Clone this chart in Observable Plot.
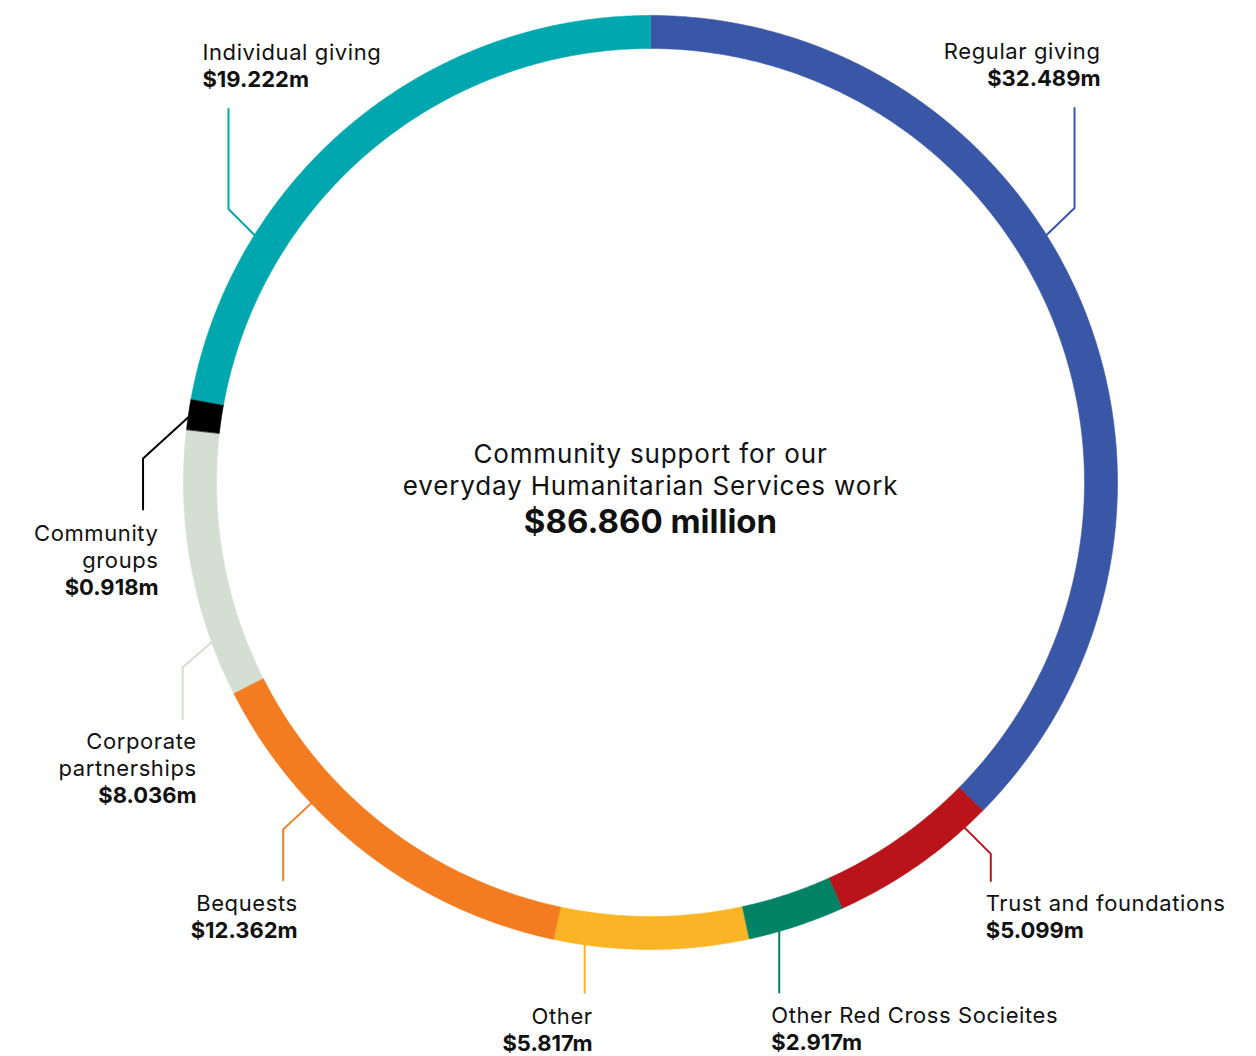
<!DOCTYPE html>
<html><head><meta charset="utf-8">
<script src="https://cdn.jsdelivr.net/npm/d3@7"></script>
<script src="https://cdn.jsdelivr.net/npm/@observablehq/plot@0.6"></script>
<style>
html,body{margin:0;padding:0;background:#fff;overflow:hidden}
#chart svg{display:block}
#chart svg g[aria-label="text"]:not([font-weight]) text{letter-spacing:0.6px}
#chart svg g[aria-label="text"][font-size="26"] text{letter-spacing:0.85px}
</style></head><body><div id="chart"></div>
<script>
// ---- data ----
const categories = ["Regular giving","Trust and foundations","Other Red Cross Socieites","Other","Bequests","Corporate partnerships","Community groups","Individual giving"];
const labelNames = ["Regular giving","Trust and foundations","Other Red Cross Socieites","Other","Bequests","Corporate\npartnerships","Community\ngroups","Individual giving"];
const values = [32.489, 5.099, 2.917, 5.817, 12.362, 8.036, 0.918, 19.222];
const valueLabels = ["$32.489m","$5.099m","$2.917m","$5.817m","$12.362m","$8.036m","$0.918m","$19.222m"];
const colors = ["#3a56a7","#ba141a","#008264","#fbb426","#f47c20","#d4ded3","#000000","#00a7af"];
const centreTitle = "Community support for our\neveryday Humanitarian Services work";
const totalLabel = "$86.860 million";

// ---- layout (screen px) ----
const W = 1256, H = 1056, CX = 650, CY = 482, R_OUT = 467, R_IN = 434;
// leader: anchor angle on ring (deg clockwise from top), diagonal dx/dy, vertical run v, text offset from line end, text anchor
const leaderLayout = [
  {angle: 58,    dx: 28,  dy: -27, v: -100, tx: 26,   ty: -22, anchor: "end"},
  {angle: 137.7, dx: 26,  dy: 26,  v: 27,   tx: -5,   ty: 57,  anchor: "start"},
  {angle: 164,   dx: 0,   dy: 0,   v: 61,   tx: -8,   ty: 58,  anchor: "start"},
  {angle: 188.1, dx: 0,   dy: 0,   v: 48,   tx: 8,    ty: 58,  anchor: "end"},
  {angle: 226.6, dx: -28, dy: 26,  v: 51,   tx: 14.5, ty: 58,  anchor: "end"},
  {angle: 250,   dx: -29, dy: 25,  v: 52,   tx: 14,   ty: 84,  anchor: "end"},
  {angle: 278,   dx: -45, dy: 41,  v: 51,   tx: 15.5, ty: 85,  anchor: "end"},
  {angle: -58,   dx: -26, dy: -26, v: -100, tx: -26,  ty: -22, anchor: "start"}
];
const LINE = 27;

// ---- derived ----
const total = d3.sum(values);
const polar = (r, deg) => { const t = deg * Math.PI / 180; return [r * Math.sin(t), r * Math.cos(t)]; };
let acc = 0;
const slices = categories.map((c, i) => {
  const a0 = acc / total * 360; acc += values[i]; const a1 = acc / total * 360;
  return {c, a0, a1, color: colors[i]};
});
const ringPts = slices.flatMap(s => {
  const n = Math.max(2, Math.ceil((s.a1 - s.a0) / 0.4)), pts = [];
  for (let k = 0; k <= n; k++) { const [x, y] = polar(R_OUT, s.a0 + (s.a1 - s.a0) * k / n); pts.push({c: s.c, x, y, color: s.color}); }
  for (let k = n; k >= 0; k--) { const [x, y] = polar(R_IN, s.a0 + (s.a1 - s.a0) * k / n); pts.push({c: s.c, x, y, color: s.color}); }
  return pts;
});
const leaderPts = [], nameRows = [], valueRows = [];
categories.forEach((c, i) => {
  const L = leaderLayout[i];
  const [ax, ay] = polar(R_OUT, L.angle);           // y up
  const ex = ax + L.dx, ey = ay - L.dy;             // elbow
  const fx = ex, fy = ey - L.v;                     // end
  leaderPts.push({c, x: ax, y: ay, color: colors[i]}, {c, x: ex, y: ey, color: colors[i]}, {c, x: fx, y: fy, color: colors[i]});
  const tx = fx + L.tx, vy = fy - L.ty;
  valueRows.push({x: tx, y: vy, text: valueLabels[i], anchor: L.anchor});
  nameRows.push({x: tx, y: vy + LINE, text: labelNames[i], anchor: L.anchor});
});

const font = "Inter, 'DejaVu Sans', sans-serif";
const textMarks = ["start", "end"].flatMap(a => [
  Plot.text(nameRows.filter(d => d.anchor === a), {x: "x", y: "y", text: "text", textAnchor: a, lineAnchor: "bottom", lineHeight: LINE / 22, fontSize: 22, fill: "#111"}),
  Plot.text(valueRows.filter(d => d.anchor === a), {x: "x", y: "y", text: "text", textAnchor: a, lineAnchor: "bottom", fontSize: 22, fontWeight: 700, fill: "#111"})
]);

const chart = Plot.plot({
  width: W, height: H, margin: 0,
  x: {domain: [-CX, W - CX], axis: null},
  y: {domain: [CY - H, CY], axis: null},
  color: {type: "identity"},
  style: {fontFamily: font, background: "#fff"},
  marks: [
    Plot.line(ringPts, {x: "x", y: "y", z: "c", fill: "color", stroke: "color", strokeWidth: 0.6, curve: "linear-closed"}),
    Plot.line(leaderPts, {x: "x", y: "y", z: "c", stroke: "color", strokeWidth: 2, curve: "linear"}),
    ...textMarks,
    Plot.text([centreTitle], {x: () => 0, y: () => CY - 494, text: d => d, lineAnchor: "bottom", lineHeight: 32 / 26, fontSize: 26, fill: "#111"}),
    Plot.text([totalLabel], {x: () => 0, y: () => CY - 532, text: d => d, lineAnchor: "bottom", fontSize: 33, fontWeight: 700, fill: "#111"})
  ]
});
document.getElementById("chart").append(chart);
</script></body></html>
